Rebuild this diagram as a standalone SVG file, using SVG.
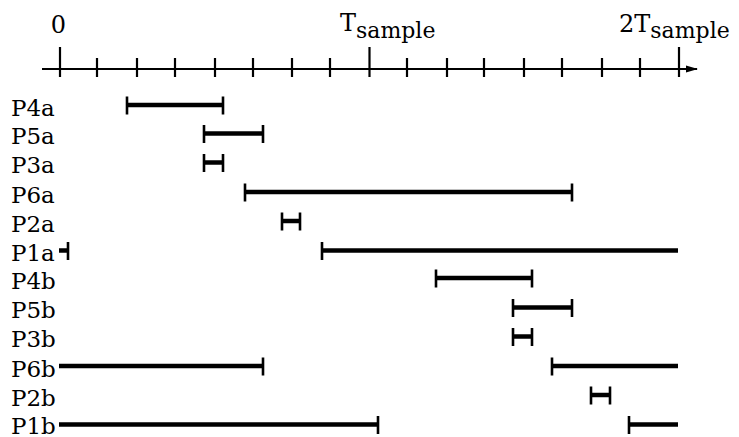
<svg xmlns="http://www.w3.org/2000/svg" width="739" height="437" viewBox="0 0 739 437">
<style>
text{font-family:"DejaVu Serif","Liberation Serif",serif;fill:#000}
.lbl{font-size:23px}
.ax{font-size:24px}
.sub{font-size:22px}
.axis{stroke:#000;stroke-width:2.2;fill:none}
.tick{stroke:#000;stroke-width:2.2}
.bar{stroke:#000;stroke-width:4.5;stroke-linecap:butt}
.cap{stroke:#000;stroke-width:2.6}
</style>
<defs>
<marker id="arr" markerWidth="12" markerHeight="8" refX="11" refY="4" orient="auto" markerUnits="userSpaceOnUse">
<path d="M0,0.5 L12,4 L0,7.5 Z" fill="#000"/>
</marker>
</defs>
<g id="axis">
<line class="axis" x1="42" y1="69" x2="697" y2="69" marker-end="url(#arr)"/>
<g class="tick">
<line x1="60" y1="47" x2="60" y2="77"/>
<line x1="97" y1="58" x2="97" y2="77"/>
<line x1="137" y1="58" x2="137" y2="77"/>
<line x1="175" y1="58" x2="175" y2="77"/>
<line x1="215" y1="58" x2="215" y2="77"/>
<line x1="253" y1="58" x2="253" y2="77"/>
<line x1="292" y1="58" x2="292" y2="77"/>
<line x1="330" y1="58" x2="330" y2="77"/>
<line x1="369.5" y1="47" x2="369.5" y2="77"/>
<line x1="407" y1="58" x2="407" y2="77"/>
<line x1="447" y1="58" x2="447" y2="77"/>
<line x1="484" y1="58" x2="484" y2="77"/>
<line x1="524" y1="58" x2="524" y2="77"/>
<line x1="562" y1="58" x2="562" y2="77"/>
<line x1="602" y1="58" x2="602" y2="77"/>
<line x1="640" y1="58" x2="640" y2="77"/>
<line x1="679" y1="47" x2="679" y2="77"/>
</g>
<text class="ax" x="58.5" y="32.5" text-anchor="middle">0</text>
<text class="ax" x="340" y="31">T<tspan class="sub" dy="6.5">sample</tspan></text>
<text class="ax" x="619" y="31.5">2T<tspan class="sub" dy="6.5">sample</tspan></text>
</g>
<g id="P4a"><text class="lbl" x="11" y="115.5">P4a</text>
<line class="bar" x1="127" y1="105" x2="223" y2="105"/>
<line class="cap" x1="127" y1="96.5" x2="127" y2="114.5"/><line class="cap" x1="223" y1="96.5" x2="223" y2="114.5"/></g>
<g id="P5a"><text class="lbl" x="11" y="144">P5a</text>
<line class="bar" x1="204" y1="133.5" x2="263" y2="133.5"/>
<line class="cap" x1="204" y1="125" x2="204" y2="143"/><line class="cap" x1="263" y1="125" x2="263" y2="143"/></g>
<g id="P3a"><text class="lbl" x="11" y="173">P3a</text>
<line class="bar" x1="204" y1="162.5" x2="223" y2="162.5"/>
<line class="cap" x1="204" y1="154" x2="204" y2="172"/><line class="cap" x1="223" y1="154" x2="223" y2="172"/></g>
<g id="P6a"><text class="lbl" x="11" y="202.5">P6a</text>
<line class="bar" x1="245" y1="192" x2="572" y2="192"/>
<line class="cap" x1="245" y1="183.5" x2="245" y2="201.5"/><line class="cap" x1="572" y1="183.5" x2="572" y2="201.5"/></g>
<g id="P2a"><text class="lbl" x="11" y="231.5">P2a</text>
<line class="bar" x1="282" y1="221" x2="300" y2="221"/>
<line class="cap" x1="282" y1="212.5" x2="282" y2="230.5"/><line class="cap" x1="300" y1="212.5" x2="300" y2="230.5"/></g>
<g id="P1a"><text class="lbl" x="11" y="261">P1a</text>
<line class="bar" x1="59" y1="250.5" x2="68" y2="250.5"/>
<line class="cap" x1="68" y1="242" x2="68" y2="260"/>
<line class="bar" x1="322" y1="250.5" x2="678" y2="250.5"/>
<line class="cap" x1="322" y1="242" x2="322" y2="260"/></g>
<g id="P4b"><text class="lbl" x="11" y="288.5">P4b</text>
<line class="bar" x1="436" y1="278" x2="532" y2="278"/>
<line class="cap" x1="436" y1="269.5" x2="436" y2="287.5"/><line class="cap" x1="532" y1="269.5" x2="532" y2="287.5"/></g>
<g id="P5b"><text class="lbl" x="11" y="318">P5b</text>
<line class="bar" x1="513" y1="307.5" x2="572" y2="307.5"/>
<line class="cap" x1="513" y1="299" x2="513" y2="317"/><line class="cap" x1="572" y1="299" x2="572" y2="317"/></g>
<g id="P3b"><text class="lbl" x="11" y="347">P3b</text>
<line class="bar" x1="513" y1="336.5" x2="532" y2="336.5"/>
<line class="cap" x1="513" y1="328" x2="513" y2="346"/><line class="cap" x1="532" y1="328" x2="532" y2="346"/></g>
<g id="P6b"><text class="lbl" x="11" y="376.5">P6b</text>
<line class="bar" x1="59" y1="366" x2="263" y2="366"/>
<line class="cap" x1="263" y1="357.5" x2="263" y2="375.5"/>
<line class="bar" x1="552" y1="366" x2="678" y2="366"/>
<line class="cap" x1="552" y1="357.5" x2="552" y2="375.5"/></g>
<g id="P2b"><text class="lbl" x="11" y="405.5">P2b</text>
<line class="bar" x1="591" y1="395" x2="610" y2="395"/>
<line class="cap" x1="591" y1="386.5" x2="591" y2="404.5"/><line class="cap" x1="610" y1="386.5" x2="610" y2="404.5"/></g>
<g id="P1b"><text class="lbl" x="11" y="433.5">P1b</text>
<line class="bar" x1="59" y1="424.5" x2="378" y2="424.5"/>
<line class="cap" x1="378" y1="416" x2="378" y2="434"/>
<line class="bar" x1="629" y1="424.5" x2="678" y2="424.5"/>
<line class="cap" x1="629" y1="416" x2="629" y2="434"/></g>
<g id="connectors"></g>
</svg>
